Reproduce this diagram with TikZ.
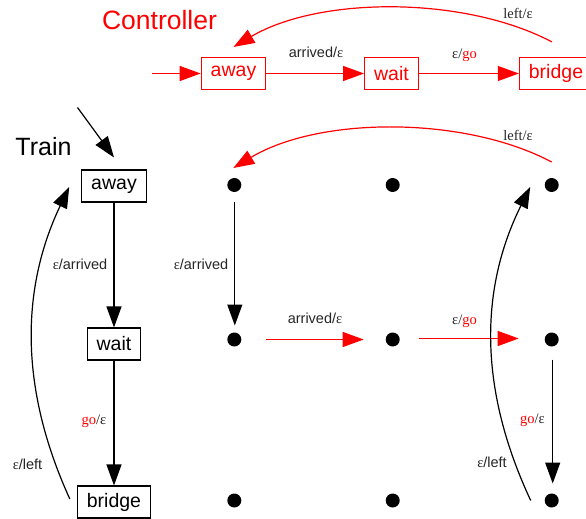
\documentclass[tikz,border=0pt]{standalone}
\usepackage{fontspec}
\setmainfont{Liberation Sans}
\newfontfamily\serf{Liberation Serif}
\usetikzlibrary{arrows.meta,calc}
\newcommand{\eps}{{\serf ε}}
\begin{document}
\begin{tikzpicture}[x=1pt,y=-1pt,
  box/.style={draw,rectangle,inner xsep=9.5pt,inner ysep=0pt,minimum height=32pt,line width=1.1pt,font=\fontsize{19.5}{19.5}\selectfont},
  ctrl/.style={draw=red,text=red},
  arr/.style={-{Triangle[length=21pt,width=15pt]},line width=1.2pt},
  lbl/.style={font=\fontsize{14.5}{14.5}\selectfont,inner sep=0pt,text=black!85},
  dot/.style={circle,fill=black,inner sep=0pt,minimum size=14pt},
  title/.style={inner sep=0pt,anchor=base}]
\useasboundingbox (0,0) rectangle (586,519);

% ---------- Controller ----------
\node[title,text=red,font=\fontsize{26.5}{26.5}\selectfont] (ctitle) at (159.5,30) {Controller};
\node[box,ctrl] (cAway) at (233.5,73.5) {away};
\node[box,ctrl] (cWait) at (391.5,73.5) {wait};
\node[box,ctrl] (cBridge) at (556,73.5) {bridge};
\coordinate (cInit) at (152,73.5);
\draw[arr,red] (cInit) -- (cAway);
\draw[arr,red] (cAway) -- (cWait);
\draw[arr,red] (cWait) -- (cBridge);
\draw[arr,red] ($(cBridge.north)+(-4,-15)$) .. controls (465,-4) and (320,-4) .. ($(cAway.north)+(0,-10)$);
\node[lbl] (lc1) at (316,52) {arrived/\eps};
\node[lbl] (lc2) at (464.5,55) {{\serf ε/\textcolor{red}{go}}};
\node[lbl] (lc3) at (518,13) {{\serf left/ε}};

% ---------- Train ----------
\node[title,font=\fontsize{25}{25}\selectfont] (ttitle) at (43.5,155) {Train};
\node[box] (tAway) at (114,186) {away};
\node[box] (tWait) at (114,344) {wait};
\node[box] (tBridge) at (114,502) {bridge};
\coordinate (tInit) at (77.5,107.5);
\draw[arr] (tInit) -- ($(tAway.north)+(0,-12)$);
\draw[arr] (tAway) -- (tWait);
\draw[arr] (tWait) -- (tBridge);
\draw[arr] ($(tBridge.west)+(-7,-3)$) .. controls (20,390) and (20,290) .. ($(tAway.west)+(-12,1)$);
\node[lbl] (lt1) at (80,264) {\eps/arrived};
\node[lbl] (lt2) at (94,421) {{\serf \textcolor{red}{go}/ε}};
\node[lbl] (lt3) at (27.5,464) {\eps/left};

% ---------- Product grid ----------
\node[dot] (d11) at (234.3,185) {};
\node[dot] (d12) at (392.7,185) {};
\node[dot] (d13) at (551.7,185) {};
\node[dot] (d21) at (234.3,339.5) {};
\node[dot] (d22) at (392.7,339.5) {};
\node[dot] (d23) at (551.7,339.5) {};
\node[dot] (d31) at (234.3,500.5) {};
\node[dot] (d32) at (392.7,500.5) {};
\node[dot] (d33) at (551.7,500.5) {};

\draw[arr] ($(d11)+(0.5,17)$) -- ($(d21)+(0.5,-14)$);
\draw[arr,red] ($(d21)+(32,0)$) -- ($(d22)+(-29,0)$);
\draw[arr,red] ($(d22)+(26,-1)$) -- ($(d23)+(-33,-1)$);
\draw[arr] ($(d23)+(1,20)$) -- ($(d33)+(1,-17)$);
\draw[arr] ($(d33)+(-21,0)$) .. controls (479,390) and (479,290) .. ($(d13)+(-21.5,2)$);
\draw[arr,red] ($(d13)+(0,-23)$) .. controls (465,116) and (320,116) .. ($(d11)+(-1,-17)$);

\node[lbl] (lg1) at (518,135) {{\serf left/ε}};
\node[lbl] (lg2) at (315,318) {arrived/\eps};
\node[lbl] (lg3) at (464.5,321) {{\serf ε/\textcolor{red}{go}}};
\node[lbl] (lg4) at (201,264) {\eps/arrived};
\node[lbl] (lg5) at (532.5,420.7) {{\serf \textcolor{red}{go}/ε}};
\node[lbl] (lg6) at (492,462) {\eps/left};
\end{tikzpicture}
\end{document}
